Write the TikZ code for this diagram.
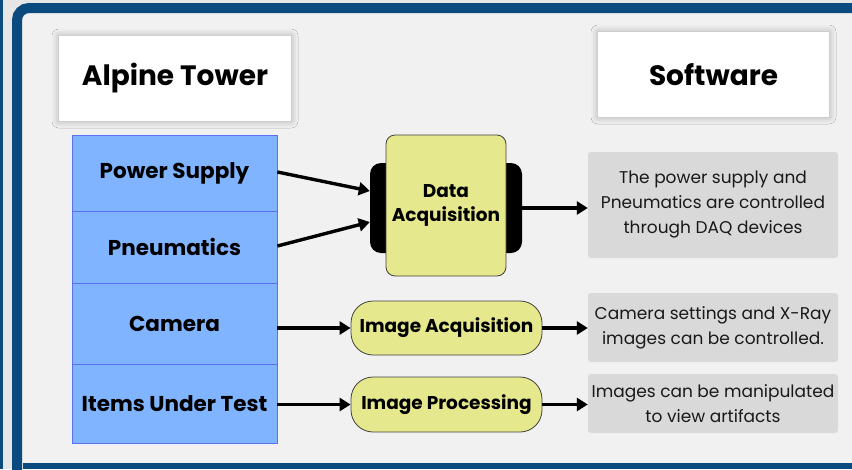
\documentclass[tikz,border=0pt]{standalone}
\usepackage{fontspec}
\setmainfont{Poppins}
\usetikzlibrary{arrows.meta,shadows.blur}

\definecolor{frameblue}{HTML}{0B4A7E}
\definecolor{paper}{HTML}{F1F1F1}
\definecolor{outside}{HTML}{E6E6E6}
\definecolor{rowblue}{HTML}{80B4FF}
\definecolor{rowline}{HTML}{5C6EF2}
\definecolor{stageyellow}{HTML}{E5E88C}
\definecolor{notegrey}{HTML}{D9D9D9}

\tikzset{
	title/.style={fill=white, minimum width=232pt, minimum height=85pt,
		font=\bfseries\fontsize{28}{30}\selectfont,
		blur shadow={shadow xshift=0pt, shadow yshift=0pt, shadow blur radius=7pt, shadow opacity=30}},
	row/.style={draw=rowline, fill=rowblue, line width=0.8pt, minimum width=205pt,
		font=\bfseries\fontsize{21.5}{24}\selectfont},
	stage/.style={draw=black!75, fill=stageyellow, line width=0.8pt, align=center,
		font=\bfseries\fontsize{18.5}{24}\selectfont},
	note/.style={fill=notegrey, rounded corners=3pt, minimum width=250pt, align=center,
		text=black!90, font=\fontsize{17}{25}\selectfont},
	conn/.style={line width=3.4pt, -{Triangle[length=11pt,width=13pt]}},
}

\begin{document}
\begin{tikzpicture}[x=1pt,y=-1pt]
	\useasboundingbox (0,0) rectangle (852,469);
	\clip (0,0) rectangle (852,469);

	% frame: rounded at the top, square bottom band
	\fill[outside] (0,0) rectangle (852,469);
	\fill[frameblue] (0,0) rectangle (3,469);
	\fill[paper] (17,8) rectangle (852,469);
	\draw[frameblue, line width=10pt, rounded corners=12pt] (17,475) -- (17,8) -- (890,8);
	\fill[frameblue] (23,463) rectangle (852,469);

	% headings
	\node[title] (alpine) at (175,78.5) {Alpine Tower};
	\node[title, minimum width=231pt] (software) at (713.5,74.5) {Software};

	% hardware column
	\node[row, minimum height=76pt] (ps) at (174.5,173) {Power Supply};
	\node[row, minimum height=72pt] (pn) at (174.5,247) {Pneumatics};
	\node[row, minimum height=81pt] (cam) at (174.5,323.5) {Camera};
	\node[row, minimum height=79pt] (iut) at (174.5,403.5) {Items Under Test};

	% software stages
	\node[fill=black, rounded corners=11pt, minimum width=152pt, minimum height=90pt] (daqtab) at (446,208) {};
	\node[stage, rounded corners=9pt, minimum width=120pt, minimum height=141pt] (daq) at (446,205.5) {Data\\[0pt]Acquisition};
	\node[stage, rounded corners=22pt, minimum width=191pt, minimum height=54pt] (imgacq) at (446.5,328) {Image Acquisition};
	\node[stage, rounded corners=22pt, minimum width=191pt, minimum height=55pt] (imgproc) at (446.5,404.5) {Image Processing};

	% notes
	\node[note, minimum height=106pt] (n1) at (713,205) {The power supply and\\Pneumatics are controlled\\through DAQ devices};
	\node[note, minimum height=69pt] (n2) at (713,327.5) {Camera settings and X-Ray\\images can be controlled.};
	\node[note, minimum height=59pt] (n3) at (713,403.5) {Images can be manipulated\\to view artifacts};

	% arrows
	\draw[conn] ([yshift=1pt]ps.east) -- ([yshift=17pt]daqtab.west);
	\draw[conn] ([yshift=1pt]pn.east) -- ([yshift=-14pt]daqtab.west);
	\draw[conn] (daqtab.east) -- (daqtab.east -| n1.west);
	\draw[conn] (cam.east |- imgacq.west) -- (imgacq.west);
	\draw[conn] (iut.east |- imgproc.west) -- (imgproc.west);
	\draw[conn] (imgacq.east) -- (imgacq.east -| n2.west);
	\draw[conn] (imgproc.east) -- (imgproc.east -| n3.west);
\end{tikzpicture}
\end{document}
